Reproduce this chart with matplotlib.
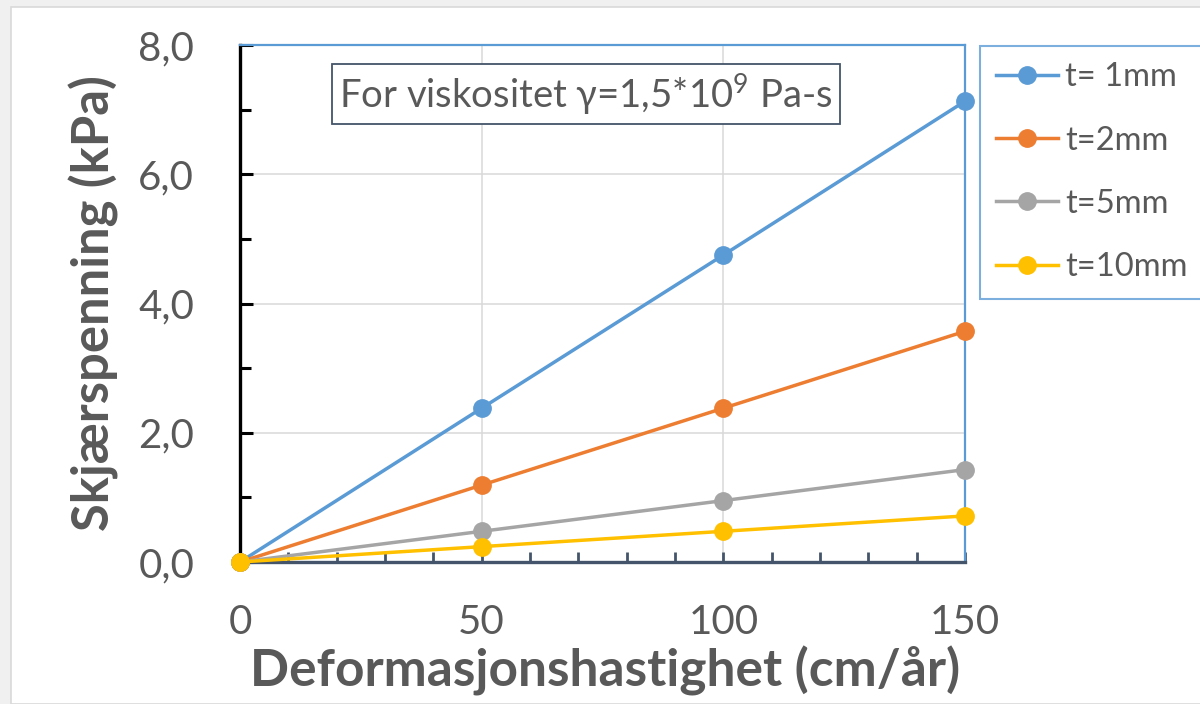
import matplotlib
matplotlib.use("Agg")
import matplotlib.pyplot as plt
from matplotlib.patches import Rectangle
from matplotlib.ticker import MultipleLocator, FuncFormatter

# Shear stress vs. deformation rate for several layer thicknesses
rate = [0, 50, 100, 150]                      # cm/år
stress_1mm = [0, 2.38, 4.75, 7.13]            # kPa
stress_2mm = [0, 1.19, 2.38, 3.57]
stress_5mm = [0, 0.475, 0.95, 1.43]
stress_10mm = [0, 0.238, 0.475, 0.713]
series_labels = ["t= 1mm", "t=2mm", "t=5mm", "t=10mm"]
series_colors = ["#5B9BD5", "#ED7D31", "#A5A5A5", "#FFC000"]

TEXT = "#595959"
FONT = ["Lato", "Open Sans", "DejaVu Sans"]
plt.rcParams["font.family"] = FONT
plt.rcParams["mathtext.fontset"] = "custom"
plt.rcParams["mathtext.rm"] = "Lato"
plt.rcParams["mathtext.it"] = "Lato:italic"
plt.rcParams["mathtext.bf"] = "Lato:bold"

W, H = 1200, 704
fig = plt.figure(figsize=(W / 100, H / 100), dpi=100, facecolor="#F0F0F0")
fig.patches.append(Rectangle((11 / W, 0), 1, 1 - 7 / H, transform=fig.transFigure,
                             facecolor="white", edgecolor="#D9D9D9", linewidth=1.2,
                             zorder=-10))

ax = fig.add_axes([240 / W, 1 - 562 / H, (965 - 240) / W, (562 - 45) / H])
ax.set_facecolor("none")

for ys, lab, col in zip([stress_1mm, stress_2mm, stress_5mm, stress_10mm],
                        series_labels, series_colors):
    ax.plot(rate, ys, color=col, linewidth=2.5, marker="o", markersize=12.5,
            label=lab, clip_on=False, zorder=5)

ax.set_xlim(0, 150)
ax.set_ylim(0, 8)
ax.xaxis.set_major_locator(MultipleLocator(50))
ax.xaxis.set_minor_locator(MultipleLocator(10))
ax.yaxis.set_major_locator(MultipleLocator(2))
ax.yaxis.set_minor_locator(MultipleLocator(1))
ax.yaxis.set_major_formatter(FuncFormatter(lambda v, p: f"{v:.1f}".replace(".", ",")))
ax.xaxis.set_major_formatter(FuncFormatter(lambda v, p: f"{v:.0f}"))

ax.grid(True, which="major", color="#D9D9D9", linewidth=1.1, zorder=0)
ax.set_axisbelow(True)

ax.tick_params(axis="y", which="both", direction="in", color="black", width=2.2,
               labelsize=29, labelcolor=TEXT, pad=33)
ax.tick_params(axis="y", which="major", length=9)
ax.tick_params(axis="y", which="minor", length=8)
ax.tick_params(axis="x", which="both", direction="in", color="#44546A", width=2.0,
               length=7.5, labelsize=29, labelcolor=TEXT, pad=30)

ax.spines["left"].set_color("black")
ax.spines["left"].set_linewidth(2.4)
ax.spines["bottom"].set_color("#44546A")
ax.spines["bottom"].set_linewidth(2.4)
for s in ("top", "right"):
    ax.spines[s].set_color("#5B9BD5")
    ax.spines[s].set_linewidth(1.6)

ax.set_ylabel("Skjærspenning (kPa)", fontsize=36.5, fontweight="bold", color=TEXT)
ax.set_xlabel("Deformasjonshastighet (cm/år)", fontsize=37, fontweight="bold",
              color=TEXT)
ax.yaxis.set_label_coords(-(240 - 119) / 725, 0.5)
ax.xaxis.set_label_coords((605 - 240) / 725, -(646 - 562) / 517)

ax.text((586 - 240) / 725, (562 - 94) / 517, r"For viskositet γ=1,5*10$^9$ Pa-s",
        transform=ax.transAxes, ha="center", va="center", fontsize=27.5, color=TEXT,
        family=FONT,
        bbox=dict(boxstyle="square,pad=0.2", facecolor="white", edgecolor="#44546A",
                  linewidth=1.3), zorder=6)

leg = ax.legend(loc="upper left", bbox_to_anchor=(980 / W, 1 - 46 / H),
                bbox_transform=fig.transFigure, borderaxespad=0, fancybox=False,
                frameon=True, edgecolor="#5B9BD5", fontsize=23.5, labelcolor=TEXT,
                handlelength=1.9, handletextpad=0.2, labelspacing=1.02,
                borderpad=0.5)
leg.get_frame().set_linewidth(1.5)

fig.savefig("out.png", dpi=100, facecolor=fig.get_facecolor())
